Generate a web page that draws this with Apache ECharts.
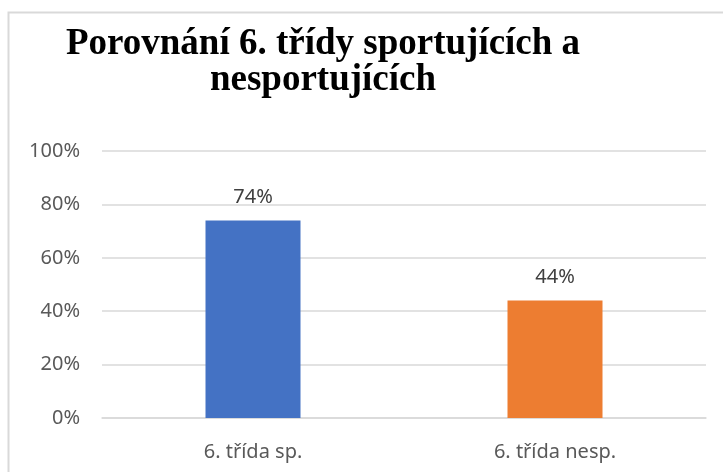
<!DOCTYPE html>
<html>
<head>
<meta charset="utf-8">
<script src="https://cdn.jsdelivr.net/npm/echarts@6/dist/echarts.min.js"></script>
<style>
  html, body { margin: 0; padding: 0; background: #fff; }
  #container { width: 723px; height: 472px; }
</style>
</head>
<body>
<div id="container"></div>
<script>
var categories = ['6. třída sp.', '6. třída nesp.'];
var values = [74, 44];
var barColors = ['#4472C4', '#ED7D31'];
var titleLines = ['Porovnání 6. třídy sportujících a', 'nesportujících'];

var dom = document.getElementById("container");
var myChart = echarts.init(dom);

var option = {
    backgroundColor: '#fff',
    animation: false,
    title: {
        text: titleLines.join('\n'),
        left: 318,
        top: 21,
        textAlign: 'center',
        textStyle: {
            fontFamily: 'Liberation Serif',
            fontWeight: 'bold',
            fontSize: 37,
            lineHeight: 36,
            color: '#000'
        }
    },
    // ramecek grafu (vidět je jen horní a levá hrana)
    graphic: [{
        type: 'rect',
        shape: { x: 8.5, y: 12.5, width: 740, height: 500 },
        style: { fill: 'none', stroke: '#d9d9d9', lineWidth: 2 },
        silent: true
    }],
    grid: {
        left: 102,
        right: 17,
        top: 151,
        bottom: 54
    },
    xAxis: {
        type: 'category',
        data: categories,
        axisLine: { lineStyle: { color: '#d9d9d9', width: 1.5 } },
        axisTick: { show: false },
        axisLabel: {
            color: '#595959',
            fontFamily: 'Noto Sans',
            fontSize: 20,
            margin: 24
        }
    },
    yAxis: {
        type: 'value',
        min: 0,
        max: 100,
        interval: 20,
        axisLine: { show: false },
        axisTick: { show: false },
        splitLine: { lineStyle: { color: '#d9d9d9', width: 1.5 } },
        axisLabel: {
            formatter: '{value}%',
            color: '#595959',
            fontFamily: 'Noto Sans',
            fontSize: 20,
            margin: 22
        }
    },
    series: [{
        type: 'bar',
        barWidth: 95,
        data: values.map(function (v, i) {
            return { value: v, itemStyle: { color: barColors[i] } };
        }),
        label: {
            show: true,
            position: 'top',
            distance: 13,
            formatter: '{c}%',
            color: '#404040',
            fontFamily: 'Noto Sans',
            fontSize: 20
        }
    }]
};
myChart.setOption(option, true);
</script>
</body>
</html>
